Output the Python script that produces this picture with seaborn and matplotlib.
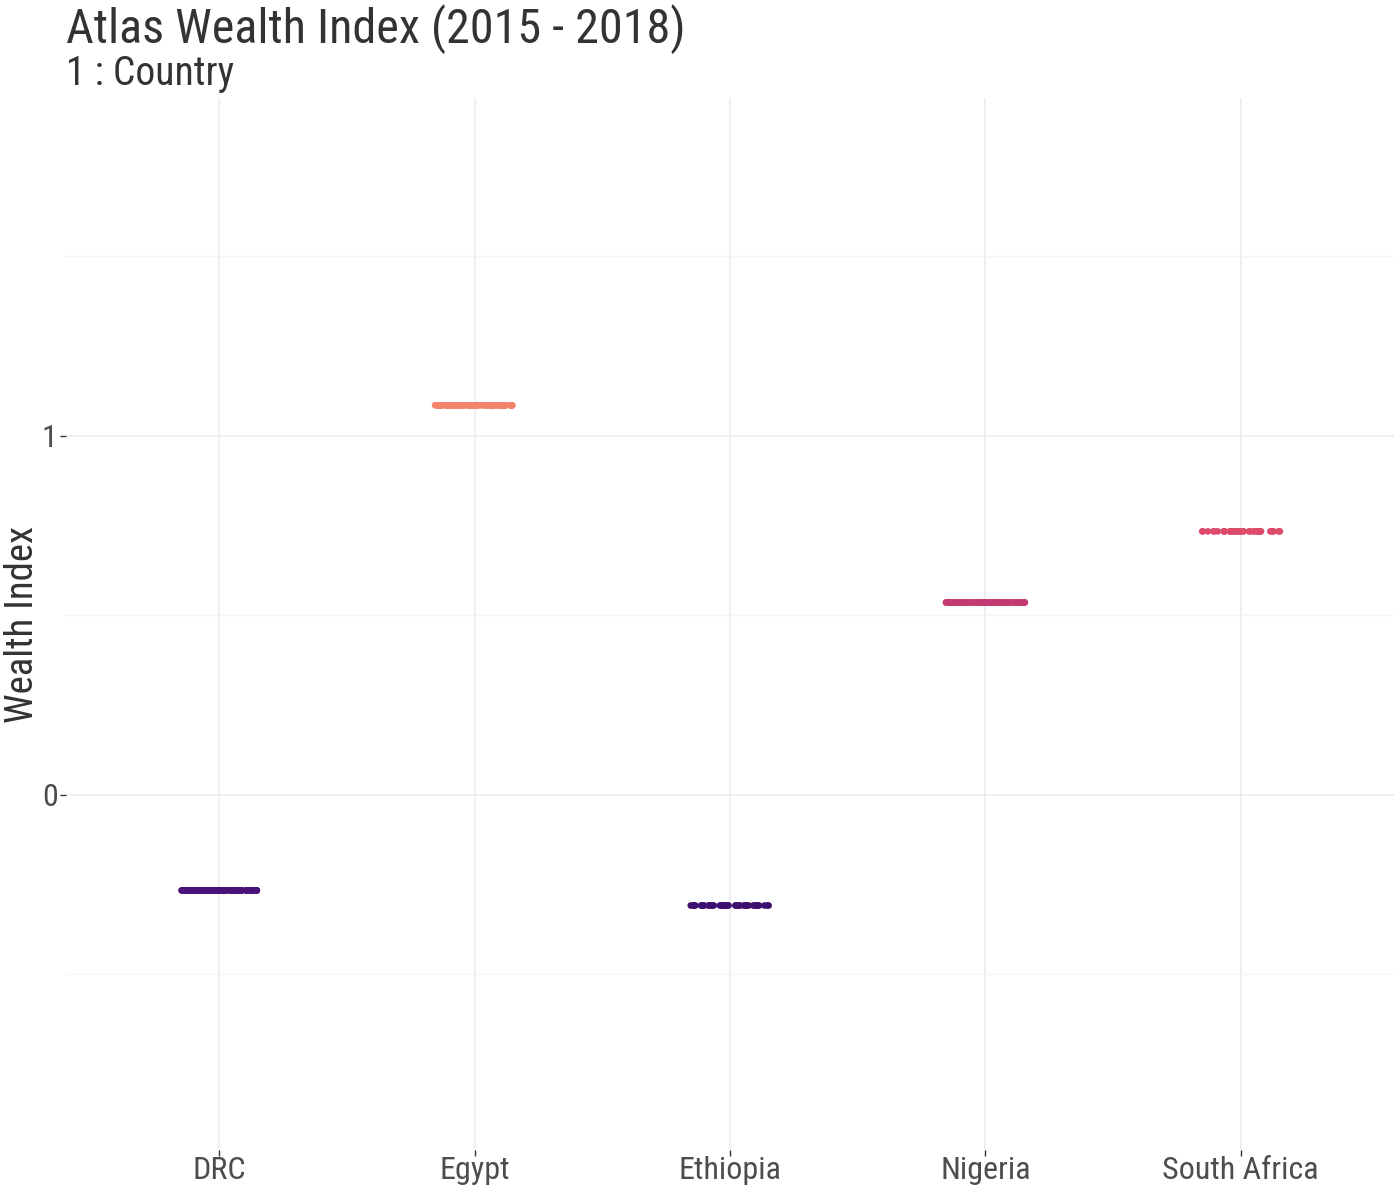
import numpy as np
import pandas as pd
import matplotlib
matplotlib.use("Agg")
import matplotlib.pyplot as plt
import seaborn as sns

countries = ["DRC", "Egypt", "Ethiopia", "Nigeria", "South Africa"]
wealth_index = [-0.267, 1.084, -0.309, 0.535, 0.733]
n_obs = [110, 110, 40, 110, 40]
colors = ["#4a1179", "#f4836c", "#3d0f6e", "#c13a71", "#de4a6c"]
y_ticks = [0, 1]

df = pd.DataFrame({
    "Country": np.repeat(countries, n_obs),
    "Wealth": np.repeat(wealth_index, n_obs),
})

sns.set_theme(style="white")
plt.rcParams["font.family"] = ["Roboto Condensed", "Roboto", "DejaVu Sans"]

fig = plt.figure(figsize=(14, 12), dpi=100)
ax = fig.add_axes([66/1400, 50/1200, 1328/1400, 1052/1200])

np.random.seed(3)
sns.stripplot(data=df, x="Country", y="Wealth", hue="Country", order=countries,
              palette=dict(zip(countries, colors)), jitter=0.155, size=4.8,
              linewidth=0, legend=False, ax=ax, zorder=3)

ax.set_xlim(-0.6, 4.6)
ax.set_ylim(-0.99, 1.94)
ax.set_yticks(y_ticks)
ax.set_yticks([-0.5, 0.5, 1.5], minor=True)
ax.grid(True, which="major", color="#ebebeb", linewidth=1.1, zorder=0)
ax.grid(True, which="minor", axis="y", color="#f4f4f4", linewidth=1.0, zorder=0)
ax.set_axisbelow(True)
for s in ax.spines.values():
    s.set_visible(False)
ax.tick_params(axis="both", which="major", length=4, width=1, color="#333333",
               labelsize=23, labelcolor="#4d4d4d", pad=2, left=True, bottom=True)
ax.tick_params(axis="x", which="major", pad=0)
ax.tick_params(axis="both", which="minor", length=0)
ax.set_xlabel("")
ax.set_ylabel("")

fig.text(4/1400, 1 - 624/1200, "Wealth Index", fontsize=28, color="#333333",
         rotation=90, ha="left", va="center")
fig.text(66/1400, 1 - 43/1200, "Atlas Wealth Index (2015 - 2018)", fontsize=34.7,
         color="#333333", ha="left", va="baseline")
fig.text(66/1400, 1 - 85/1200, "1 : Country", fontsize=28.5,
         color="#333333", ha="left", va="baseline")

fig.savefig("out.png", dpi=100, facecolor="white")
